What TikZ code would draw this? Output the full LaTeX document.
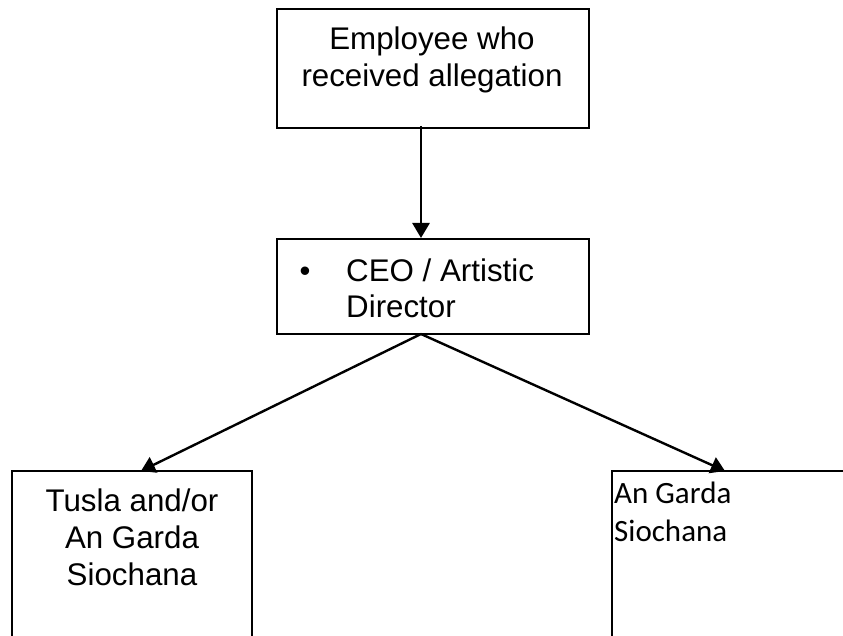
\documentclass[tikz,border=0pt]{standalone}
\usepackage{fontspec}
\setmainfont{Liberation Sans}
\newfontfamily\calfont{Carlito}
\usetikzlibrary{arrows.meta}
\begin{document}
\begin{tikzpicture}[x=1pt,y=-1pt,
  boxstyle/.style={draw=black,line width=2pt,rectangle,inner sep=0pt},
  txt/.style={anchor=base,inner sep=0pt,font=\fontsize{31.3}{37}\selectfont},
  caltxt/.style={anchor=base west,inner sep=0pt,font=\calfont\fontsize{31}{38}\selectfont},
  arr/.style={line width=2.8pt,-{Triangle[width=17pt,length=15pt]}},
  diag/.style={line width=2.4pt,-{Triangle[width=17pt,length=14pt]}}]
\useasboundingbox (0,0) rectangle (843,636);
\fill[white] (0,0) rectangle (843,636);
\clip (0,0) rectangle (843,636);
% boxes
\node[boxstyle,minimum width=312pt,minimum height=119pt] (top) at (433,68.5) {};
\node[boxstyle,minimum width=312pt,minimum height=95pt] (ceo) at (433,286.5) {};
\node[boxstyle,minimum width=240pt,minimum height=229pt] (left) at (132,585.5) {};
\node[boxstyle,minimum width=288pt,minimum height=229pt] (right) at (756,585.5) {};
% texts
\node[txt] (t1) at (432,50) {Employee who};
\node[txt] (t2) at (432,87) {received allegation};
\node[anchor=base,inner sep=0pt,font=\fontsize{31}{37}\selectfont] (bul) at (305,281) {\textbullet};
\node[txt,anchor=base west] (c1) at (346,281) {CEO / Artistic};
\node[txt,anchor=base west] (c2) at (346,317) {Director};
\node[txt] (l1) at (132,511) {Tusla and/or};
\node[txt] (l2) at (132,548) {An Garda};
\node[txt] (l3) at (132,585) {Siochana};
\node[caltxt] (r1) at (614,503) {An Garda};
\node[caltxt] (r2) at (614,541) {Siochana};
% connectors
\coordinate (ax) at (421,0);
\coordinate (ceoS) at (421,334);
\coordinate (lT) at (141,471);
\coordinate (rT) at (725,471);
\draw[arr] ([yshift=3pt]top.south -| ax) -- (ceo.north -| ax);
\draw[diag] (ceoS) -- (lT);
\draw[diag] (ceoS) -- (rT);
\end{tikzpicture}
\end{document}
